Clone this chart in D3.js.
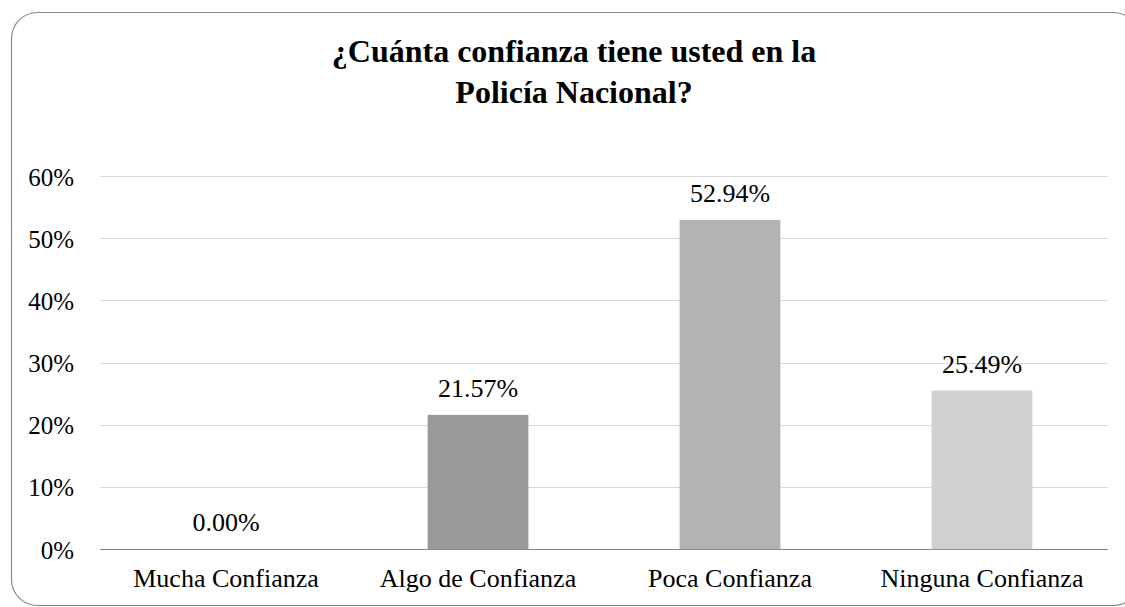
<!DOCTYPE html>
<html>
<head>
<meta charset="utf-8">
<script src="https://cdn.jsdelivr.net/npm/d3@7"></script>
<style>
  html, body { margin: 0; padding: 0; background: #fff; }
  svg { display: block; }
</style>
</head>
<body>
<svg id="chart" width="1125" height="607"></svg>
<script>
const categories = ["Mucha Confianza", "Algo de Confianza", "Poca Confianza", "Ninguna Confianza"];
const values = [0.00, 21.57, 52.94, 25.49];
const barColors = ["#8c8c8c", "#999999", "#b3b3b3", "#d0d0d0"];
const yTicks = [0, 10, 20, 30, 40, 50, 60];
const titleLines = ["¿Cuánta confianza tiene usted en la", "Policía Nacional?"];

const FONT = '"Liberation Serif", "Times New Roman", Times, serif';
const svg = d3.select("#chart");

// chart frame
svg.append("rect")
  .attr("x", 11.5).attr("y", 12.5)
  .attr("width", 1128).attr("height", 593)
  .attr("rx", 26).attr("ry", 26)
  .attr("fill", "#fff")
  .attr("stroke", "#8a8a8a")
  .attr("stroke-width", 1.2);

const plot = { left: 100, right: 1108, top: 176, bottom: 549 };

const x = d3.scaleBand()
  .domain(categories)
  .range([plot.left, plot.right])
  .paddingInner(0.6)
  .paddingOuter(0.3);

const y = d3.scaleLinear()
  .domain([0, 60])
  .range([plot.bottom, plot.top]);

// gridlines
svg.append("g")
  .selectAll("line")
  .data(yTicks.filter(d => d > 0))
  .join("line")
  .attr("x1", plot.left).attr("x2", plot.right)
  .attr("y1", d => Math.round(y(d)) + 0.5)
  .attr("y2", d => Math.round(y(d)) + 0.5)
  .attr("stroke", "#d9d9d9")
  .attr("stroke-width", 1.2);

// y axis labels
const yAxis = d3.axisLeft(y).tickValues(yTicks).tickFormat(d => d + "%").tickSize(0).tickPadding(0);
const gy = svg.append("g").attr("transform", "translate(74,0)").call(yAxis);
gy.select(".domain").remove();
gy.selectAll("text")
  .attr("dy", "0.36em")
  .style("font-family", FONT)
  .style("font-size", "25px")
  .style("fill", "#000");

// bars
svg.append("g")
  .selectAll("rect")
  .data(values)
  .join("rect")
  .attr("x", (d, i) => x(categories[i]))
  .attr("width", x.bandwidth())
  .attr("y", d => y(d))
  .attr("height", d => y(0) - y(d))
  .attr("fill", (d, i) => barColors[i]);

// x axis line
svg.append("line")
  .attr("x1", plot.left).attr("x2", plot.right)
  .attr("y1", y(0) + 0.5).attr("y2", y(0) + 0.5)
  .attr("stroke", "#8a8a8a")
  .attr("stroke-width", 1.2);

// x axis labels
const xAxis = d3.axisBottom(x).tickSize(0).tickPadding(0);
const gx = svg.append("g").attr("transform", `translate(0,${y(0)})`).call(xAxis);
gx.select(".domain").remove();
gx.selectAll("text")
  .attr("dy", null)
  .attr("y", 38)
  .style("font-family", FONT)
  .style("font-size", "26px")
  .style("fill", "#000");

// value labels
svg.append("g")
  .selectAll("text")
  .data(values)
  .join("text")
  .attr("x", (d, i) => x(categories[i]) + x.bandwidth() / 2)
  .attr("y", d => y(d) - 18)
  .attr("text-anchor", "middle")
  .style("font-family", FONT)
  .style("font-size", "26px")
  .style("fill", "#000")
  .text(d => d.toFixed(2) + "%");

// title
svg.append("g")
  .selectAll("text")
  .data(titleLines)
  .join("text")
  .attr("x", 574)
  .attr("y", (d, i) => 62 + i * 41)
  .attr("text-anchor", "middle")
  .style("font-family", FONT)
  .style("font-size", "32px")
  .style("font-weight", "bold")
  .style("fill", "#000")
  .text(d => d);
</script>
</body>
</html>
